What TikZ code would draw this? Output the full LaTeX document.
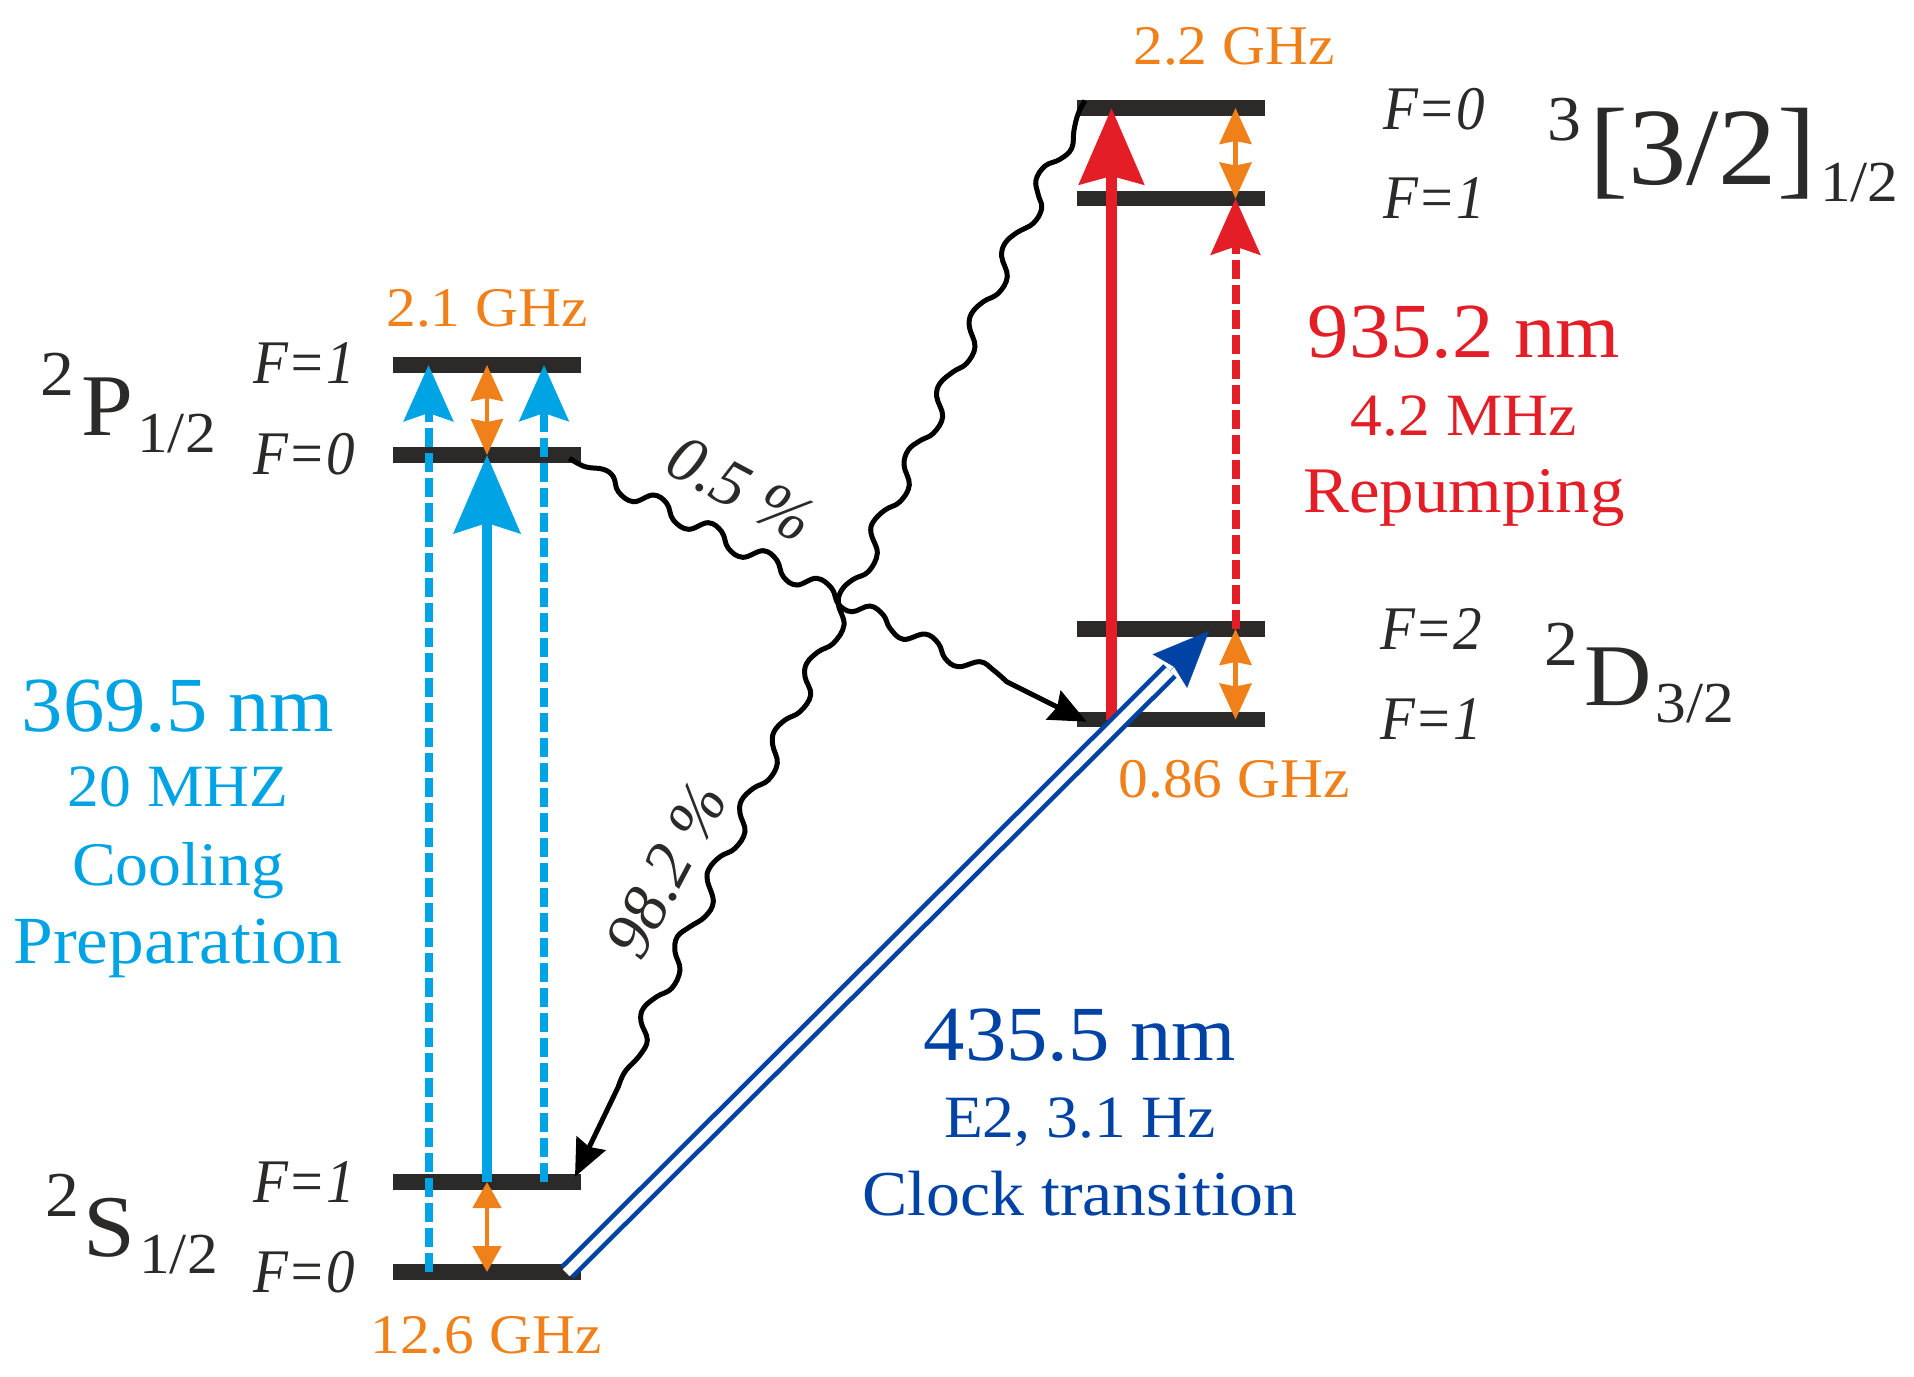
\documentclass[tikz,border=0pt]{standalone}
\usepackage{fontspec}
\setmainfont[FakeStretch=1.06]{Liberation Serif}
\newfontfamily\fitnarrow[FakeStretch=0.92]{Liberation Serif}
\newfontfamily\fitplain{Liberation Serif}
\usetikzlibrary{arrows.meta,calc}
\definecolor{cy}{HTML}{00A3E3}
\definecolor{og}{HTML}{F0801A}
\definecolor{rd}{HTML}{E31E26}
\definecolor{bl}{HTML}{0043A5}
\definecolor{dk}{HTML}{2B2A29}
\newcommand{\fs}[1]{\fontsize{#1}{#1}\selectfont}
\newcommand{\termlabel}[6]{{\fs{32}\raisebox{#4pt}{#1}}\hspace{#6pt}{\fs{#5}#2}\hspace{2pt}{\fs{29}\raisebox{-8.5pt}{#3}}}
\tikzset{
  x=0.5pt,y=-0.5pt,
  levelbar/.style={fill=dk,draw=none,inner sep=0pt,minimum height=7.6pt,minimum width=94pt},
  flab/.style={text=dk,font=\fs{31}\fitnarrow\itshape,inner sep=0pt},
  term/.style={text=dk,anchor=base west,inner sep=0pt},
  oglab/.style={text=og,font=\fs{28},inner sep=0pt},
  cylab/.style={text=cy,inner sep=0pt},
  rdlab/.style={text=rd,inner sep=0pt},
  bllab/.style={text=bl,inner sep=0pt},
  ratelab/.style={text=dk,font=\fs{33}\fitplain\itshape,inner sep=0pt},
  bigsolid/.style={line width=5pt,-{Stealth[length=39pt,width=33pt,inset=5pt]}},
  smalldash/.style={line width=4pt,dash pattern=on 9.5pt off 3pt,-{Stealth[length=28pt,width=24.5pt,inset=4pt]}},
  ogboth/.style={draw=og,fill=og,line width=2.2pt,{Stealth[length=18pt,width=16pt,inset=1.5pt]}-{Stealth[length=18pt,width=16pt,inset=1.5pt]}},
  ogflat/.style={draw=og,fill=og,line width=2.2pt,{Triangle[length=13pt,width=14pt]}-{Triangle[length=13pt,width=14pt]}},
  wavy/.style={black,line width=2.5pt,-{Stealth[length=18.5pt,width=16pt,inset=2pt]}},
}
\begin{document}
\begin{tikzpicture}
\useasboundingbox (0,0) rectangle (1914,1376);
% levels
\node[levelbar] (P1) at (487,365) {};
\node[levelbar] (P0) at (487,455) {};
\node[levelbar] (S1) at (487,1182) {};
\node[levelbar] (S0) at (487,1272) {};
\node[levelbar] (T0) at (1171,108) {};
\node[levelbar] (T1) at (1171,198.5) {};
\node[levelbar] (D2) at (1171,629) {};
\node[levelbar] (D1) at (1171,719.5) {};
% guide coordinates
\coordinate (xa) at (428.5,0);
\coordinate (xb) at (487,0);
\coordinate (xc) at (544,0);
\coordinate (xd) at (1111.5,0);
\coordinate (xe) at (1235.5,0);
\coordinate (ws) at (569.3,458.3);
\coordinate (we) at (1086.7,721.7);
\coordinate (us) at (1085,100.7);
\coordinate (ue) at (575,1176.7);
\coordinate (bs) at (567,1272);
\coordinate (bm) at (1170,671);
\coordinate (bt) at (1209,631);
% wavy decays
\draw[wavy] plot[smooth,tension=0.65] coordinates {(ws) (585,466.7) (603.3,469.3) (613.3,476.7) (618.3,491.7) (633.3,501.7) (653.3,495) (666.7,503.3) (673.3,520) (688.3,529.3) (708.3,522.7) (721.7,531.7) (728.3,548.3) (742.7,557.3) (763.3,550.7) (776.7,560) (783.3,576.7) (796.7,585) (816.7,578.3) (831.7,588.3) (838.3,604) (851.7,611.7) (870,606) (883.3,615) (890,628.3) (903.3,639.3) (925,634) (938.3,643.3) (945,658.3) (958.3,666.7) (980,661.7) (993.3,670) (1006.7,681.7)} -- (we);
\draw[wavy] plot[smooth,tension=0.65] coordinates {(us) (1078.3,113.3) (1074,130) (1071.7,148.3) (1060,159.3) (1045,166) (1036,180) (1038.3,195) (1041.7,208.3) (1033.3,223.3) (1016.7,232.7) (1005,243.3) (1001.7,256.7) (1007.3,276.7) (998.3,293.3) (983.3,301.7) (971.7,313.3) (969.3,326.7) (975,346.7) (966.7,363.3) (953.3,371.7) (940,383.3) (936.7,396.7) (942.7,416.7) (933.3,433.3) (920,440.7) (908.3,450) (904,465) (909.3,485) (900,501.7) (885,510) (873.3,521.7) (871,533.3) (877.3,553.3) (868.3,571.7) (853.3,579.3) (841.7,590) (838.3,604) (844,625) (833.3,643.3) (818.3,651.7) (806.7,663.3) (805,676.7) (810.7,695) (800,711.7) (785,720) (774,731.7) (772.7,745) (777.3,763.3) (768.3,780) (753.3,788.3) (741.7,800) (740,813.3) (745,831.7) (735,848.3) (720,856.7) (709.3,868.3) (707.3,880) (713.3,901.7) (705,916.7) (690,926.7) (677.3,936.7) (675,951.7) (680,970) (671.7,988.3) (656.7,996.7) (643.3,1008.3) (641,1021.7) (647.3,1040) (640,1055) (625,1071.7) (618.3,1086.7)} -- (ue);
% cyan
\draw[cy,smalldash] (xa |- S0) -- (xa |- P1);
\draw[cy,smalldash] (xc |- S1) -- (xc |- P1);
\draw[cy,bigsolid] (xb |- S1) -- (xb |- P0);
% red
\draw[rd,line width=5.6pt,-{Stealth[length=38pt,width=32pt,inset=4pt]}] (xd |- D1) -- (xd |- T0);
\draw[rd,smalldash] (xe |- D2) -- (xe |- T1);
% orange
\draw[ogboth] (xb |- P0) -- (xb |- P1);
\draw[ogboth] (xe |- T1) -- (xe |- T0);
\draw[ogboth] (xe |- D1) -- (xe |- D2);
\draw[ogflat] (xb |- S0) -- (xb |- S1);
% clock
\draw[bl,line width=9.4pt] (bs) -- (bm);
\draw[white,line width=4.8pt,shorten <=-0.6pt] (bs) -- (bm);
\draw[bl,line width=0.1pt,-{Stealth[length=28pt,width=24pt,inset=3pt]}] (bm) -- (bt);
% F labels
\node[flab] (f1) at (304,363) {F=1};
\node[flab] (f2) at (304,454) {F=0};
\node[flab] (f3) at (304,1182) {F=1};
\node[flab] (f4) at (304,1272) {F=0};
\node[flab] (f5) at (1434,109) {F=0};
\node[flab] (f6) at (1434,198) {F=1};
\node[flab] (f7) at (1431,629) {F=2};
\node[flab] (f8) at (1431,719) {F=1};
% terms
\node[term] (tp) at (40,435) {\termlabel{2}{P}{1/2}{20}{44}{3.5}};
\node[term] (ts) at (45,1256) {\termlabel{2}{S}{1/2}{20}{44}{2}};
\node[term] (td) at (1544,705) {\termlabel{2}{D}{3/2}{20}{44}{3}};
\node[term] (tt) at (1547,184) {\termlabel{3}{[3/2]}{1/2}{22}{55}{4}};
% orange labels
\node[oglab] (g1) at (487,308) {2.1 GHz};
\node[oglab] (g2) at (1234,46) {2.2 GHz};
\node[oglab] (g3) at (1234,779) {0.86 GHz};
\node[oglab] (g4) at (486,1335) {12.6 GHz};
% cyan text
\node[cylab,font=\fs{39}] (c1) at (178,706) {369.5 nm};
\node[cylab,font=\fs{30}] (c2) at (178,787) {20 MHZ};
\node[cylab,font=\fs{31}] (c3) at (178,871) {Cooling};
\node[cylab,font=\fs{33.7}] (c4) at (178,948) {Preparation};
% red text
\node[rdlab,font=\fs{39}] (r1) at (1464,332) {935.2 nm};
\node[rdlab,font=\fs{30}] (r2) at (1464,416) {4.2 MHz};
\node[rdlab,font=\fs{32.5}] (r3) at (1464,498) {Repumping};
% blue text
\node[bllab,font=\fs{39}] (b1) at (1080,1035) {435.5 nm};
\node[bllab,font=\fs{30}] (b2) at (1080,1122) {E2, 3.1 Hz};
\node[bllab,font=\fs{32}] (b3) at (1080,1194) {Clock transition};
% rates
\node[ratelab,rotate=-28] (q1) at (741,489) {0.5 \%};
\node[ratelab,rotate=62] (q2) at (666,870) {98.2 \%};
\end{tikzpicture}
\end{document}
